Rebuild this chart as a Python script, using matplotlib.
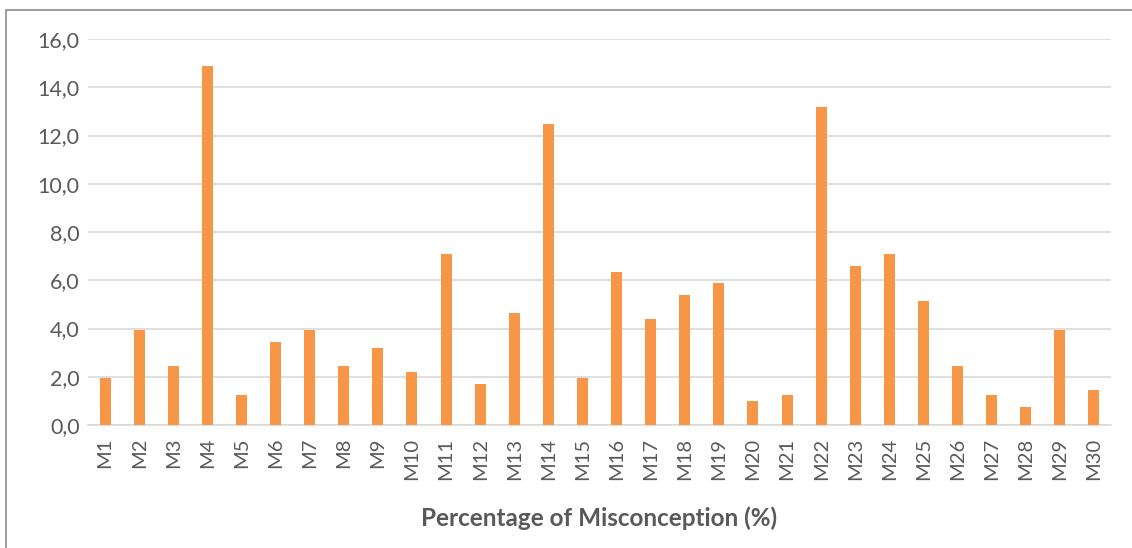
import matplotlib.pyplot as plt
from matplotlib.patches import Rectangle
from matplotlib.ticker import FuncFormatter

labels = ["M%d" % i for i in range(1, 31)]
values = [1.96, 3.92, 2.45, 14.9, 1.23, 3.42, 3.92, 2.45, 3.18, 2.20,
          7.09, 1.71, 4.65, 12.47, 1.96, 6.36, 4.40, 5.38, 5.87, 0.98,
          1.23, 13.2, 6.60, 7.09, 5.13, 2.45, 1.23, 0.73, 3.92, 1.47]
yticks = [0, 2, 4, 6, 8, 10, 12, 14, 16]

plt.rcParams['font.family'] = ['Lato', 'DejaVu Sans']

fig = plt.figure(figsize=(11.32, 5.48), dpi=100)
ax = fig.add_axes([88/1132, 1 - 425/548, (1111-88)/1132, (425-39)/548])

# outer chart frame (cut by the image edge on right/bottom)
fig.patches.append(Rectangle((6/1132, -0.2), 1.2, 1 - 10/548 + 0.2,
                             transform=fig.transFigure, fill=False,
                             edgecolor="#8c8c8c", lw=1.2))

x = list(range(len(labels)))
ax.bar(x, values, width=0.32, color="#F79646", zorder=3)

ax.set_xlim(-0.5, len(labels) - 0.5)
ax.set_ylim(0, 16)
ax.set_yticks(yticks)
ax.yaxis.set_major_formatter(FuncFormatter(lambda v, p: ("%.1f" % v).replace(".", ",")))
ax.grid(axis="y", color="#d9d9d9", lw=1.2, zorder=0)
ax.set_xticks(x)
ax.set_xticklabels(labels, rotation=90)

for s in ["top", "right", "left"]:
    ax.spines[s].set_visible(False)
ax.spines["bottom"].set_color("#d9d9d9")
ax.spines["bottom"].set_linewidth(1.2)
ax.tick_params(axis="y", length=0, colors="#595959", labelsize=15.5, pad=6)
ax.tick_params(axis="x", length=0, colors="#595959", labelsize=14.5, pad=9)

fig.text((88 + 1111) / 2 / 1132, 1 - 518/548, "Percentage of Misconception (%)",
         ha="center", va="center", fontsize=17.5, fontweight="bold", color="#595959")

fig.savefig("out.png", dpi=100)
